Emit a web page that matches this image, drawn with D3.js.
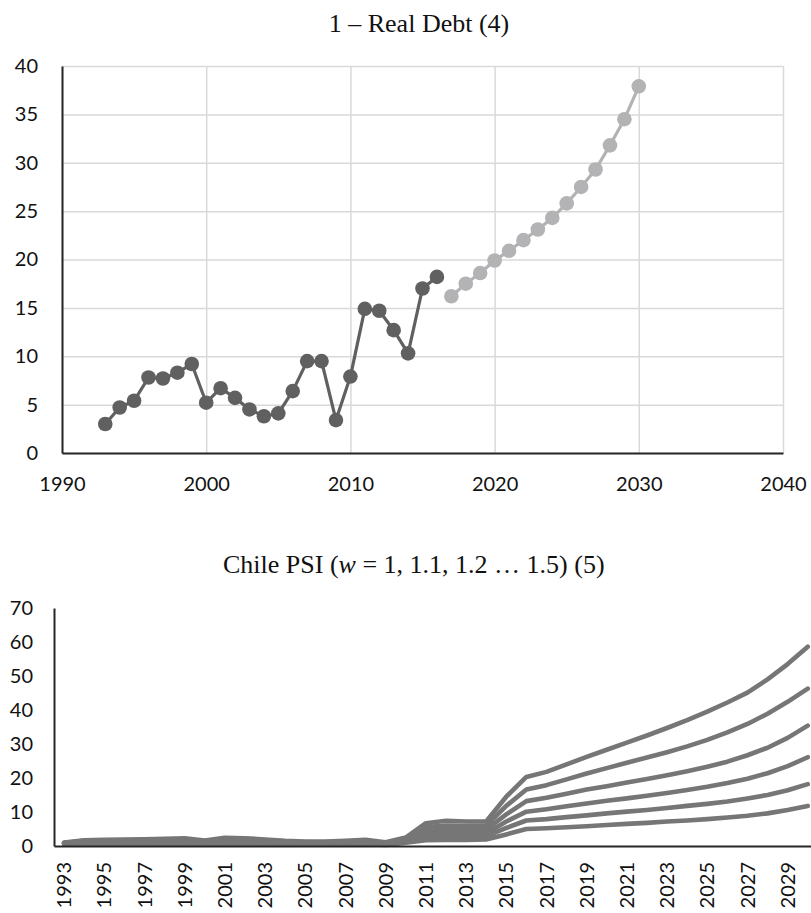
<!DOCTYPE html>
<html>
<head>
<meta charset="utf-8">
<script src="https://cdn.jsdelivr.net/npm/d3@7"></script>
<style>
  body { margin: 0; background: #fff; }
  svg { display: block; }
  .tick text { font-family: Lato, "Open Sans", sans-serif; font-size: 20px; fill: #111; }
  .title { font-family: "Liberation Serif", "Times New Roman", serif; font-size: 26px; fill: #111; }
</style>
</head>
<body>
<div id="chart"></div>
<script>
const width = 811, height = 913;

// Top chart: real debt, actual and projected
const actualYears = [1993, 1994, 1995, 1996, 1997, 1998, 1999, 2000, 2001, 2002, 2003, 2004,
    2005, 2006, 2007, 2008, 2009, 2010, 2011, 2012, 2013, 2014, 2015, 2016];
const actualDebt = [3.0, 4.7, 5.4, 7.8, 7.7, 8.3, 9.2, 5.2, 6.7, 5.7, 4.5, 3.8,
    4.1, 6.4, 9.5, 9.5, 3.4, 7.9, 14.9, 14.7, 12.7, 10.3, 17.0, 18.2];
const forecastYears = [2017, 2018, 2019, 2020, 2021, 2022, 2023, 2024, 2025, 2026, 2027, 2028, 2029, 2030];
const forecastDebt = [16.2, 17.5, 18.6, 19.9, 20.9, 22.0, 23.1, 24.3, 25.8, 27.5, 29.3, 31.8, 34.5, 37.9];
const debtXTicks = [1990, 2000, 2010, 2020, 2030, 2040];
const debtYTicks = [0, 5, 10, 15, 20, 25, 30, 35, 40];

// Bottom chart: PSI for w = 1 ... 1.5
const psiYears = [1993, 1994, 1995, 1996, 1997, 1998, 1999, 2000, 2001, 2002, 2003, 2004, 2005,
    2006, 2007, 2008, 2009, 2010, 2011, 2012, 2013, 2014, 2015, 2016, 2017, 2018, 2019,
    2020, 2021, 2022, 2023, 2024, 2025, 2026, 2027, 2028, 2029, 2030];
const psiW10 = [0.6, 0.7, 0.7, 0.7, 0.7, 0.7, 0.7, 0.6, 0.7, 0.7, 0.6, 0.5, 0.4, 0.4, 0.5, 0.5,
    0.3, 1.0, 1.7, 1.8, 1.8, 1.9, 3.4, 5.0, 5.2, 5.5, 5.8, 6.2, 6.5, 6.8, 7.2, 7.5, 7.9, 8.4,
    8.9, 9.6, 10.6, 11.8];
const psiW11 = [0.7, 0.9, 0.9, 1.0, 1.0, 1.0, 1.0, 0.8, 1.0, 1.0, 0.9, 0.7, 0.6, 0.6, 0.7, 0.8,
    0.45, 1.3, 2.5, 2.7, 2.7, 2.8, 5.3, 7.5, 7.9, 8.5, 9.0, 9.6, 10.1, 10.6, 11.2, 11.8, 12.4,
    13.1, 14.0, 15.0, 16.4, 18.2];
const psiW12 = [0.8, 1.1, 1.1, 1.2, 1.2, 1.3, 1.3, 1.0, 1.4, 1.3, 1.1, 0.9, 0.8, 0.8, 0.9, 1.0,
    0.6, 1.6, 3.4, 3.7, 3.6, 3.7, 7.2, 10.1, 10.8, 11.7, 12.5, 13.3, 14.0, 14.8, 15.6, 16.5,
    17.4, 18.5, 19.8, 21.4, 23.5, 26.1];
const psiW13 = [0.9, 1.3, 1.4, 1.4, 1.5, 1.6, 1.7, 1.2, 1.8, 1.7, 1.4, 1.1, 1.0, 1.0, 1.1, 1.3,
    0.75, 1.9, 4.5, 4.8, 4.7, 4.8, 9.3, 13.2, 14.2, 15.4, 16.6, 17.6, 18.7, 19.7, 20.8, 22.0,
    23.3, 24.8, 26.7, 28.9, 31.8, 35.4];
const psiW14 = [0.9, 1.5, 1.6, 1.7, 1.8, 1.9, 2.0, 1.4, 2.1, 2.0, 1.7, 1.3, 1.1, 1.1, 1.3, 1.6,
    0.9, 2.2, 5.6, 6.0, 5.9, 6.0, 11.8, 16.6, 17.9, 19.6, 21.3, 22.9, 24.5, 26.0, 27.6, 29.3,
    31.2, 33.4, 35.9, 38.9, 42.4, 46.3];
const psiW15 = [1.0, 1.7, 1.8, 1.9, 2.0, 2.1, 2.3, 1.6, 2.4, 2.3, 1.9, 1.5, 1.3, 1.3, 1.5, 1.8,
    1.1, 2.5, 6.7, 7.4, 7.2, 7.2, 14.5, 20.3, 21.8, 24.0, 26.2, 28.3, 30.4, 32.5, 34.7, 37.0,
    39.5, 42.2, 45.1, 49.0, 53.5, 58.6];
const psiSeries = [psiW10, psiW11, psiW12, psiW13, psiW14, psiW15];
const psiXTicks = psiYears.filter((d, i) => i % 2 === 0);
const psiYTicks = [0, 10, 20, 30, 40, 50, 60, 70];

const svg = d3.select("#chart")
    .append("svg")
    .attr("width", width)
    .attr("height", height);

function drawDebt() {
    const x = d3.scaleLinear().domain([1990, 2040]).range([62, 783]);
    const y = d3.scaleLinear().domain([0, 40]).range([453, 66]);
    const g = svg.append("g");

    // gridlines
    g.append("g")
        .attr("transform", "translate(0,453)")
        .call(d3.axisBottom(x).tickValues(debtXTicks).tickSize(-387).tickFormat(""))
        .call(a => a.select(".domain").remove())
        .selectAll("line").attr("stroke", "#d9d9d9").attr("stroke-width", 1.5);
    g.append("g")
        .attr("transform", "translate(62,0)")
        .call(d3.axisLeft(y).tickValues(debtYTicks).tickSize(-721).tickFormat(""))
        .call(a => a.select(".domain").remove())
        .selectAll("line").attr("stroke", "#d9d9d9").attr("stroke-width", 1.5);

    // axes
    const xAxis = g.append("g")
        .attr("transform", "translate(0,453)")
        .call(d3.axisBottom(x).tickValues(debtXTicks).tickSize(0).tickSizeOuter(0).tickPadding(24).tickFormat(d3.format("d")));
    const yAxis = g.append("g")
        .attr("transform", "translate(62,0)")
        .call(d3.axisLeft(y).tickValues(debtYTicks).tickSize(0).tickSizeOuter(0).tickPadding(24));
    [xAxis, yAxis].forEach(a => a.select(".domain").attr("stroke", "#262626").attr("stroke-width", 2));

    const line = d3.line().x(d => x(d.year)).y(d => y(d.value));
    const sets = [
        { years: actualYears, values: actualDebt, color: "#606060" },
        { years: forecastYears, values: forecastDebt, color: "#b3b3b5" }
    ];
    sets.forEach(s => {
        const pts = s.years.map((yr, i) => ({ year: yr, value: s.values[i] }));
        g.append("path")
            .datum(pts)
            .attr("d", line)
            .attr("fill", "none")
            .attr("stroke", s.color)
            .attr("stroke-width", 3.2)
            .attr("stroke-linejoin", "round");
        g.selectAll(null)
            .data(pts)
            .join("circle")
            .attr("cx", d => x(d.year))
            .attr("cy", d => y(d.value))
            .attr("r", 7.3)
            .attr("fill", s.color);
    });

    svg.append("text")
        .attr("class", "title")
        .attr("x", 419)
        .attr("y", 32)
        .attr("text-anchor", "middle")
        .text("1 – Real Debt (4)");
}

function drawPsi() {
    const x = d3.scaleBand().domain(psiYears).range([54, 54 + psiYears.length * 20.1]);
    const y = d3.scaleLinear().domain([0, 70]).range([846, 608]);
    const g = svg.append("g");

    const line = d3.line()
        .x(d => x(d.year) + x.bandwidth() / 2)
        .y(d => y(d.value));

    psiSeries.forEach(values => {
        const pts = psiYears.map((yr, i) => ({ year: yr, value: values[i] }));
        g.append("path")
            .datum(pts)
            .attr("d", line)
            .attr("fill", "none")
            .attr("stroke", "#767676")
            .attr("stroke-width", 4.6)
            .attr("stroke-linejoin", "round")
            .attr("stroke-linecap", "round");
    });

    const xAxis = g.append("g")
        .attr("transform", "translate(0,846)")
        .call(d3.axisBottom(x).tickValues(psiXTicks).tickSize(0).tickSizeOuter(0));
    xAxis.selectAll("text")
        .attr("transform", "rotate(-90)")
        .attr("x", -16)
        .attr("y", 0)
        .attr("dy", "0.36em")
        .attr("text-anchor", "end");
    const yAxis = g.append("g")
        .attr("transform", "translate(54,0)")
        .call(d3.axisLeft(y).tickValues(psiYTicks).tickSize(0).tickSizeOuter(0).tickPadding(21));
    [xAxis, yAxis].forEach(a => a.select(".domain").attr("stroke", "#262626").attr("stroke-width", 2));

    const title = svg.append("text")
        .attr("class", "title")
        .attr("x", 223)
        .attr("y", 573);
    title.append("tspan").text("Chile PSI (");
    title.append("tspan").attr("font-style", "italic").text("w");
    title.append("tspan").text(" = 1, 1.1, 1.2 … 1.5) (5)");
}

drawDebt();
drawPsi();
</script>
</body>
</html>
